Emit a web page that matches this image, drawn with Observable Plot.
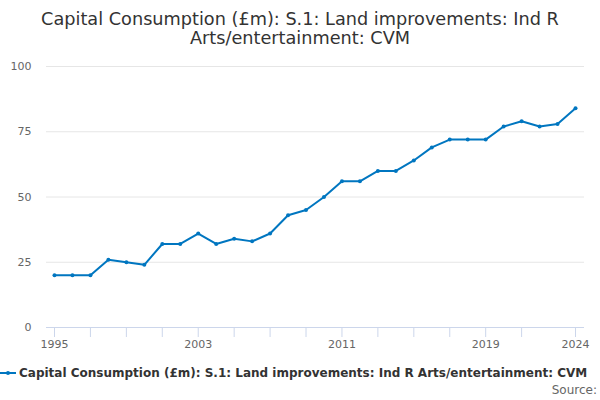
<!DOCTYPE html>
<html>
<head>
<meta charset="utf-8">
<script src="https://cdn.jsdelivr.net/npm/d3@7"></script>
<script src="https://cdn.jsdelivr.net/npm/@observablehq/plot@0.6"></script>
<style>
  html, body { margin: 0; padding: 0; background: #fff; width: 600px; height: 400px; overflow: hidden; font-family: "DejaVu Sans", sans-serif; }
  #title { position: absolute; left: 0; top: 10px; width: 600px; text-align: center; font-size: 17.7px; line-height: 19px; color: #333; }
  #chart { position: absolute; left: 0; top: 52px; }
  #legend { position: absolute; left: 0; top: 366px; white-space: nowrap; font-size: 12px; font-weight: bold; color: #333; display: flex; align-items: center; }
  #source { position: absolute; right: 3px; top: 383px; font-size: 12px; color: #666; }
</style>
</head>
<body>
<div id="title">Capital Consumption (£m): S.1: Land improvements: Ind R<br>Arts/entertainment: CVM</div>
<div id="chart"></div>
<div id="legend"><svg width="16" height="10" style="margin-right:3px"><line x1="0" x2="16" y1="5" y2="5" stroke="#0076c0" stroke-width="2"/><circle cx="8" cy="5" r="2" fill="#0076c0"/></svg>Capital Consumption (£m): S.1: Land improvements: Ind R Arts/entertainment: CVM</div>
<div id="source">Source: </div>
<script>
const years = [1995,1996,1997,1998,1999,2000,2001,2002,2003,2004,2005,2006,2007,2008,2009,2010,2011,2012,2013,2014,2015,2016,2017,2018,2019,2020,2021,2022,2023,2024];
const values = [20,20,20,26,25,24,32,32,36,32,34,33,36,43,45,50,56,56,60,60,64,69,72,72,72,77,79,77,78,84];
const xTicks = [1995,1997,1999,2001,2003,2005,2007,2009,2011,2013,2015,2017,2019,2021,2024];
const xLabels = [1995,2003,2011,2019,2024];
const yTicks = [0,25,50,75,100];

const data = years.map((y, i) => ({year: y, value: values[i]}));
const color = "#0076c0";

const chart = Plot.plot({
  width: 600,
  height: 303,
  marginTop: 14,
  marginBottom: 28,
  marginLeft: 46,
  marginRight: 16,
  style: {fontFamily: "DejaVu Sans, sans-serif", fontSize: "11px", color: "#666", background: "#fff"},
  x: {domain: [1994.555, 2024.5], type: "linear"},
  y: {domain: [0, 100]},
  marks: [
    Plot.ruleY(yTicks.filter(d => d > 0), {stroke: "#e6e6e6", strokeWidth: 1, strokeOpacity: 1}),
    Plot.ruleY([0], {stroke: "#ccd6eb", strokeWidth: 1, strokeOpacity: 1}),
    Plot.axisY({ticks: yTicks, tickSize: 0, tickPadding: 15, label: null, fill: "#666", fontSize: 11}),
    Plot.axisX({ticks: xTicks, tickSize: 10, tickPadding: 3, stroke: "#ccd6eb", strokeOpacity: 1, label: null,
      tickFormat: d => xLabels.includes(d) ? String(d) : "", fill: "#666", fontSize: 11}),
    Plot.line(data, {x: "year", y: "value", stroke: color, strokeWidth: 2}),
    Plot.dot(data, {x: "year", y: "value", r: 2, fill: color, stroke: null})
  ]
});
document.getElementById("chart").appendChild(chart);
</script>
</body>
</html>
